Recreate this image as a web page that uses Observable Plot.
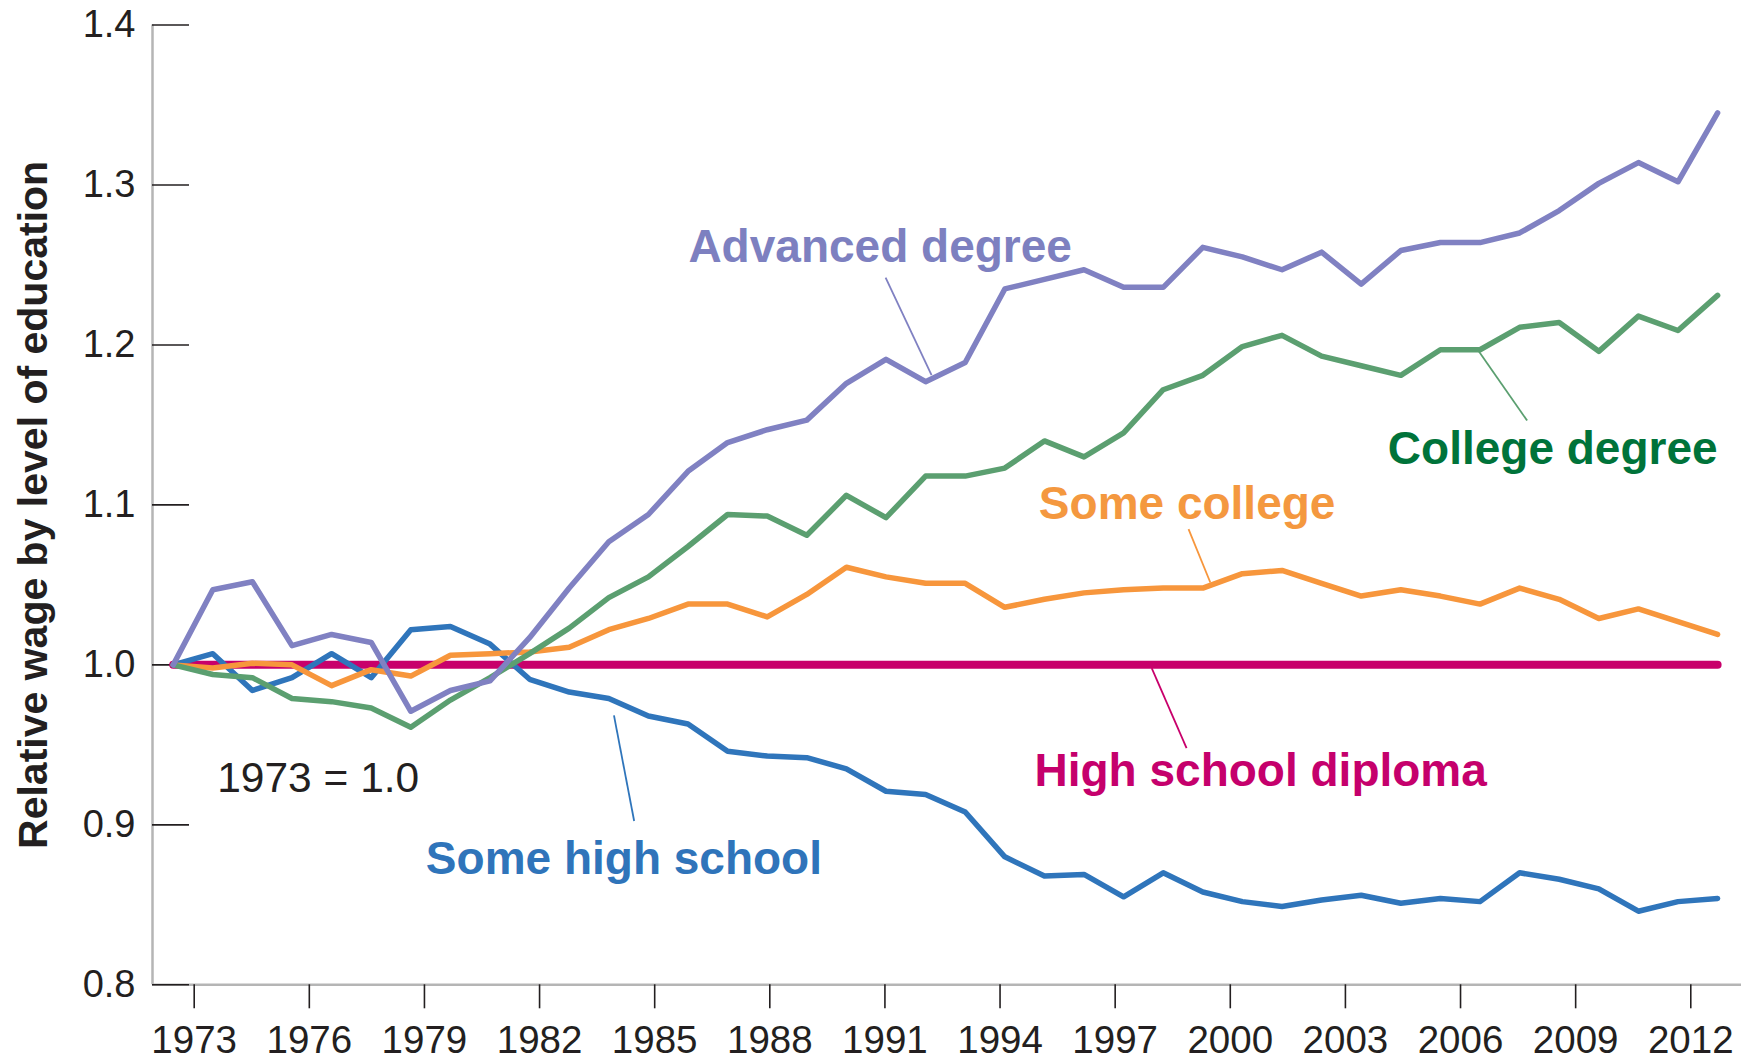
<!DOCTYPE html>
<html>
<head>
<meta charset="utf-8">
<script src="https://cdn.jsdelivr.net/npm/d3@7"></script>
<script src="https://cdn.jsdelivr.net/npm/@observablehq/plot@0.6"></script>
<style>
  html, body { margin: 0; padding: 0; background: #fff; }
  #chart svg { display: block; }
</style>
</head>
<body>
<div id="chart"></div>
<script>
// ---------- data ----------
const years = [1973,1974,1975,1976,1977,1978,1979,1980,1981,1982,1983,1984,1985,1986,1987,1988,1989,1990,1991,1992,
               1993,1994,1995,1996,1997,1998,1999,2000,2001,2002,2003,2004,2005,2006,2007,2008,2009,2010,2011,2012];

const someHighSchool = [1.000,1.007,0.984,0.992,1.007,0.992,1.022,1.024,1.013,0.991,0.983,0.979,0.968,0.963,0.946,0.943,0.942,0.935,0.921,0.919,
                        0.908,0.880,0.868,0.869,0.855,0.870,0.858,0.852,0.849,0.853,0.856,0.851,0.854,0.852,0.870,0.866,0.860,0.846,0.852,0.854];

const highSchoolDiploma = [1.0,1.0,1.0,1.0,1.0,1.0,1.0,1.0,1.0,1.0,1.0,1.0,1.0,1.0,1.0,1.0,1.0,1.0,1.0,1.0,
                           1.0,1.0,1.0,1.0,1.0,1.0,1.0,1.0,1.0,1.0,1.0,1.0,1.0,1.0,1.0,1.0,1.0,1.0,1.0,1.0];

const someCollege = [1.000,0.998,1.001,1.000,0.987,0.997,0.993,1.006,1.007,1.008,1.011,1.022,1.029,1.038,1.038,1.030,1.044,1.061,1.055,1.051,
                     1.051,1.036,1.041,1.045,1.047,1.048,1.048,1.057,1.059,1.051,1.043,1.047,1.043,1.038,1.048,1.041,1.029,1.035,1.027,1.019];

const collegeDegree = [1.000,0.994,0.992,0.979,0.977,0.973,0.961,0.978,0.992,1.007,1.023,1.042,1.055,1.074,1.094,1.093,1.081,1.106,1.092,1.118,
                       1.118,1.123,1.140,1.130,1.145,1.172,1.181,1.199,1.206,1.193,1.187,1.181,1.197,1.197,1.211,1.214,1.196,1.218,1.209,1.231];

const advancedDegree = [1.000,1.047,1.052,1.012,1.019,1.014,0.971,0.984,0.990,1.017,1.048,1.077,1.094,1.121,1.139,1.147,1.153,1.176,1.191,1.177,
                        1.189,1.235,1.241,1.247,1.236,1.236,1.261,1.255,1.247,1.258,1.238,1.259,1.264,1.264,1.270,1.284,1.301,1.314,1.302,1.345];

const yTickValues = [0.8, 0.9, 1.0, 1.1, 1.2, 1.3, 1.4];
const xTickYears = [1973,1976,1979,1982,1985,1988,1991,1994,1997,2000,2003,2006,2009,2012];
const yTitle = "Relative wage by level of education";
const baseNote = "1973 = 1.0";

// series: name, values, line colour, label colour
const seriesNames  = ["High school diploma", "Some high school", "Some college", "College degree", "Advanced degree"];
const seriesValues = [highSchoolDiploma, someHighSchool, someCollege, collegeDegree, advancedDegree];
const lineColors   = ["#c8006b", "#2f75bb", "#f7963c", "#5b9f70", "#8081c2"];
const labelColors  = ["#c5006c", "#2f74ba", "#f4983f", "#00733a", "#7d80c0"];

// annotation anchors (data units: year, relative wage)
const labelSeries = ["Advanced degree", "College degree", "Some college", "High school diploma", "Some high school"];
const labelYear   = [1986.01, 2012.0, 1994.86, 1994.75, 1979.38];
const labelValue  = [1.2521, 1.1257, 1.0911, 0.924, 0.869];
const labelAlign  = ["start", "end", "start", "start", "start"];

const leaderSeries = ["Advanced degree", "College degree", "Some college", "High school diploma", "Some high school"];
const leaderYear1  = [1990.99, 2005.96, 1998.64, 1997.71, 1984.13];
const leaderVal1   = [1.2421, 1.1963, 1.0849, 0.998, 0.9684];
const leaderYear2  = [1992.15, 2007.19, 1999.19, 1998.59, 1984.64];
const leaderVal2   = [1.1811, 1.1527, 1.0515, 0.948, 0.9024];

const noteYear = 1974.11, noteValue = 0.9206;

// ---------- build ----------
const colorOf = name => lineColors[seriesNames.indexOf(name)];
const labelColorOf = name => labelColors[seriesNames.indexOf(name)];

const xDomain = [1972.477, 2012.6035];
// the original's axis ticks are spaced slightly tighter than the data points
const axisOffset = 0.530, axisStretch = 0.96904;
const tickPos = y => 1973 + axisOffset + (y - 1973) * axisStretch;
const tickYearOf = p => Math.round(1973 + (p - 1973 - axisOffset) / axisStretch);

const ink = "#231f20";
const marks = [];

// axis lines (gray)
marks.push(Plot.ruleY([0.8], {stroke: "#b5b5b5", strokeWidth: 2.5}));
marks.push(Plot.ruleX([xDomain[0]], {stroke: "#b5b5b5", strokeWidth: 2.5}));

// y axis: labels outside, ticks inside
marks.push(Plot.axisY({ticks: yTickValues, tickSize: 0, tickPadding: 17, tickFormat: d3.format(".1f"),
  fontSize: 38, color: ink, label: null}));
marks.push(Plot.axisY({ticks: yTickValues, tickSize: 37, dx: 37, fill: "none", stroke: ink, strokeWidth: 1.6, label: null}));

// x axis
marks.push(Plot.axisX({ticks: xTickYears.map(tickPos), tickFormat: p => String(tickYearOf(p)),
  tickSize: 24, tickPadding: 17, fontSize: 38.5, color: ink, strokeWidth: 1.6, label: null}));

// y title
marks.push(Plot.text([yTitle], {frameAnchor: "left", dx: -118.5, rotate: -90, textAnchor: "middle", lineAnchor: "middle",
  fontSize: 41, fontWeight: "bold", fill: ink}));

// lines
seriesNames.forEach((name, s) => {
  const rows = years.map((yr, i) => ({year: yr, value: seriesValues[s][i]}));
  marks.push(Plot.line(rows, {x: "year", y: "value", stroke: lineColors[s],
    strokeWidth: name === "High school diploma" ? 8 : 5.5, strokeLinejoin: "round", strokeLinecap: "round"}));
});

// leader lines
const leaders = leaderSeries.map((name, i) => ({name, x1: leaderYear1[i], y1: leaderVal1[i], x2: leaderYear2[i], y2: leaderVal2[i]}));
leaders.forEach(d => {
  marks.push(Plot.link([d], {x1: "x1", y1: "y1", x2: "x2", y2: "y2", stroke: colorOf(d.name), strokeWidth: 1.8}));
});

// series labels
const labels = labelSeries.map((name, i) => ({name, x: labelYear[i], y: labelValue[i], align: labelAlign[i]}));
labels.forEach(d => {
  marks.push(Plot.text([d], {x: "x", y: "y", text: "name", fill: labelColorOf(d.name), textAnchor: d.align,
    lineAnchor: "bottom", fontSize: 46, fontWeight: "bold"}));
});

// base note
marks.push(Plot.text([baseNote], {x: () => noteYear, y: () => noteValue, textAnchor: "start", lineAnchor: "bottom",
  fontSize: 42.5, fill: ink}));

const chart = Plot.plot({
  width: 1741,
  height: 1060,
  marginLeft: 152,
  marginRight: 0,
  marginTop: 24.5,
  marginBottom: 75.7,
  style: {fontFamily: "'Liberation Sans', Arial, Helvetica, sans-serif", background: "#fff", overflow: "visible"},
  x: {domain: xDomain, axis: null},
  y: {domain: [0.8, 1.4], axis: null},
  marks
});
document.getElementById("chart").appendChild(chart);
</script>
</body>
</html>
